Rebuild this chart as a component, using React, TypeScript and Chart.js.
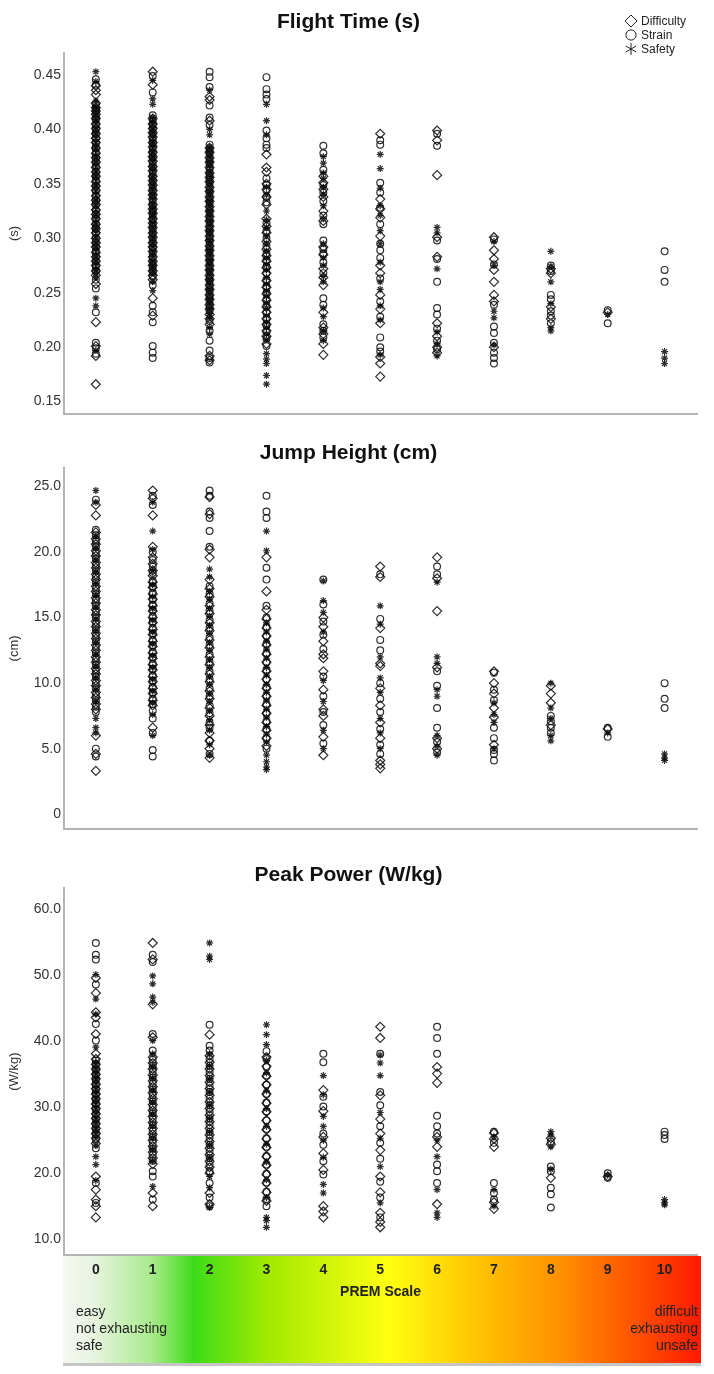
import { useEffect, useRef } from "react";
import Chart from "chart.js/auto";

const FONT = '"Liberation Sans", Arial, sans-serif';

const prem = [0, 1, 2, 3, 4, 5, 6, 7, 8, 9, 10];
const seriesNames = ["Difficulty", "Strain", "Safety"];
const markerStyles = ["rectRot", "circle", "star"];
const markerRadius = [4.5, 3.4, 3.5];

// one list of values per PREM category (0..10)
const flightDifficulty = [
  [0.44, 0.436, 0.432, 0.424, 0.42, 0.417, 0.414, 0.41, 0.405, 0.401, 0.396, 0.392, 0.388, 0.383, 0.378, 0.374, 0.37, 0.365, 0.361, 0.357, 0.352, 0.348, 0.344, 0.339, 0.335, 0.331, 0.326, 0.322, 0.318, 0.313, 0.309, 0.305, 0.3, 0.296, 0.292, 0.287, 0.283, 0.279, 0.275, 0.27, 0.266, 0.258, 0.223, 0.201, 0.192, 0.166],
  [0.453, 0.441, 0.41, 0.405, 0.401, 0.397, 0.393, 0.388, 0.384, 0.379, 0.375, 0.371, 0.366, 0.362, 0.357, 0.353, 0.349, 0.344, 0.34, 0.336, 0.331, 0.327, 0.323, 0.318, 0.314, 0.31, 0.305, 0.301, 0.296, 0.292, 0.288, 0.283, 0.279, 0.275, 0.27, 0.266, 0.262, 0.245, 0.229],
  [0.43, 0.427, 0.408, 0.383, 0.379, 0.374, 0.37, 0.365, 0.36, 0.356, 0.352, 0.347, 0.343, 0.338, 0.334, 0.329, 0.325, 0.32, 0.316, 0.311, 0.307, 0.302, 0.298, 0.293, 0.289, 0.284, 0.28, 0.275, 0.271, 0.266, 0.262, 0.257, 0.253, 0.248, 0.244, 0.239, 0.235, 0.23, 0.226, 0.221, 0.192, 0.188],
  [0.377, 0.365, 0.361, 0.35, 0.345, 0.338, 0.331, 0.318, 0.311, 0.305, 0.297, 0.29, 0.284, 0.279, 0.273, 0.268, 0.261, 0.255, 0.249, 0.243, 0.237, 0.232, 0.226, 0.221, 0.215, 0.21, 0.203],
  [0.357, 0.351, 0.345, 0.338, 0.325, 0.316, 0.292, 0.285, 0.272, 0.264, 0.257, 0.232, 0.218, 0.212, 0.203, 0.193],
  [0.396, 0.336, 0.327, 0.319, 0.302, 0.275, 0.268, 0.248, 0.235, 0.222, 0.191, 0.185, 0.173],
  [0.399, 0.39, 0.358, 0.301, 0.283, 0.222, 0.21, 0.2, 0.195],
  [0.301, 0.289, 0.281, 0.271, 0.26, 0.248, 0.242, 0.2],
  [0.272, 0.268, 0.237, 0.226],
  [0.232],
  [],
];
const flightStrain = [
  [0.446, 0.441, 0.423, 0.419, 0.417, 0.412, 0.409, 0.404, 0.4, 0.396, 0.392, 0.387, 0.383, 0.379, 0.374, 0.37, 0.366, 0.361, 0.357, 0.353, 0.348, 0.344, 0.339, 0.335, 0.331, 0.326, 0.322, 0.318, 0.313, 0.309, 0.305, 0.3, 0.296, 0.292, 0.288, 0.283, 0.279, 0.274, 0.27, 0.262, 0.254, 0.232, 0.204, 0.199, 0.194],
  [0.449, 0.434, 0.413, 0.408, 0.404, 0.4, 0.396, 0.391, 0.387, 0.382, 0.378, 0.374, 0.369, 0.365, 0.36, 0.356, 0.352, 0.347, 0.343, 0.339, 0.334, 0.33, 0.325, 0.321, 0.317, 0.312, 0.308, 0.304, 0.299, 0.295, 0.291, 0.286, 0.282, 0.277, 0.273, 0.269, 0.265, 0.257, 0.238, 0.232, 0.223, 0.201, 0.195, 0.19],
  [0.453, 0.448, 0.439, 0.422, 0.411, 0.404, 0.386, 0.381, 0.377, 0.372, 0.368, 0.363, 0.358, 0.354, 0.35, 0.345, 0.341, 0.336, 0.332, 0.327, 0.323, 0.318, 0.314, 0.309, 0.305, 0.3, 0.296, 0.291, 0.287, 0.282, 0.278, 0.273, 0.269, 0.264, 0.26, 0.255, 0.251, 0.246, 0.242, 0.237, 0.233, 0.224, 0.215, 0.206, 0.197, 0.19, 0.186],
  [0.448, 0.437, 0.432, 0.428, 0.399, 0.392, 0.386, 0.383, 0.355, 0.349, 0.344, 0.338, 0.333, 0.314, 0.307, 0.3, 0.293, 0.286, 0.28, 0.274, 0.268, 0.262, 0.256, 0.25, 0.244, 0.238, 0.232, 0.226, 0.22, 0.214, 0.208, 0.201],
  [0.385, 0.378, 0.363, 0.349, 0.342, 0.334, 0.321, 0.313, 0.298, 0.29, 0.286, 0.278, 0.268, 0.245, 0.239, 0.221, 0.215, 0.209],
  [0.39, 0.386, 0.351, 0.342, 0.328, 0.313, 0.295, 0.289, 0.282, 0.263, 0.242, 0.228, 0.209, 0.2, 0.196],
  [0.396, 0.385, 0.298, 0.281, 0.26, 0.236, 0.23, 0.217, 0.206, 0.198],
  [0.299, 0.276, 0.239, 0.219, 0.213, 0.204, 0.195, 0.19, 0.185],
  [0.275, 0.27, 0.248, 0.244, 0.233, 0.229, 0.222],
  [0.234, 0.222],
  [0.288, 0.271, 0.26],
];
const flightSafety = [
  [0.453, 0.444, 0.426, 0.421, 0.419, 0.415, 0.411, 0.407, 0.402, 0.398, 0.394, 0.389, 0.385, 0.381, 0.376, 0.372, 0.368, 0.363, 0.359, 0.355, 0.35, 0.346, 0.342, 0.337, 0.333, 0.329, 0.324, 0.32, 0.315, 0.311, 0.307, 0.302, 0.298, 0.294, 0.29, 0.285, 0.281, 0.277, 0.272, 0.268, 0.264, 0.245, 0.238, 0.197],
  [0.445, 0.428, 0.423, 0.411, 0.407, 0.402, 0.398, 0.394, 0.389, 0.385, 0.38, 0.376, 0.372, 0.367, 0.363, 0.358, 0.354, 0.35, 0.346, 0.341, 0.337, 0.332, 0.328, 0.324, 0.32, 0.315, 0.311, 0.306, 0.302, 0.298, 0.294, 0.289, 0.285, 0.28, 0.276, 0.272, 0.268, 0.26, 0.252],
  [0.436, 0.4, 0.395, 0.384, 0.38, 0.376, 0.371, 0.367, 0.362, 0.358, 0.353, 0.349, 0.344, 0.34, 0.335, 0.331, 0.326, 0.322, 0.317, 0.313, 0.308, 0.304, 0.299, 0.295, 0.29, 0.286, 0.281, 0.277, 0.272, 0.268, 0.263, 0.259, 0.254, 0.25, 0.245, 0.241, 0.236, 0.231, 0.227, 0.218, 0.212],
  [0.423, 0.408, 0.395, 0.347, 0.34, 0.325, 0.317, 0.31, 0.302, 0.295, 0.288, 0.282, 0.276, 0.271, 0.264, 0.258, 0.252, 0.247, 0.241, 0.236, 0.229, 0.223, 0.218, 0.212, 0.207, 0.194, 0.189, 0.185, 0.174, 0.166],
  [0.375, 0.369, 0.36, 0.355, 0.347, 0.34, 0.33, 0.318, 0.295, 0.282, 0.275, 0.265, 0.26, 0.236, 0.228, 0.215, 0.206],
  [0.377, 0.364, 0.346, 0.33, 0.321, 0.307, 0.295, 0.278, 0.26, 0.253, 0.238, 0.225, 0.193],
  [0.31, 0.305, 0.272, 0.214, 0.203, 0.192],
  [0.297, 0.275, 0.233, 0.227, 0.202],
  [0.288, 0.274, 0.26, 0.24, 0.218, 0.215],
  [0.23],
  [0.196, 0.19, 0.185],
];

const jumpDifficulty = [
  [23.6, 22.8, 21.5, 21.0, 20.6, 20.1, 19.7, 19.2, 18.8, 18.3, 17.9, 17.4, 17.0, 16.5, 16.1, 15.6, 15.2, 14.7, 14.3, 13.8, 13.4, 12.9, 12.5, 12.0, 11.6, 11.1, 10.7, 10.2, 9.8, 9.3, 8.9, 8.4, 8.0, 6.0, 4.6, 3.3],
  [24.7, 24.1, 22.8, 20.4, 19.6, 19.1, 18.6, 18.2, 17.7, 17.3, 16.8, 16.4, 15.9, 15.5, 15.0, 14.6, 14.1, 13.7, 13.2, 12.8, 12.3, 11.9, 11.4, 11.0, 10.5, 10.1, 9.6, 9.2, 8.7, 8.3, 6.6],
  [24.2, 22.9, 20.2, 19.6, 17.9, 17.2, 16.6, 15.9, 15.3, 14.6, 14.0, 13.3, 12.7, 12.0, 11.4, 10.7, 10.1, 9.4, 8.8, 8.1, 7.5, 6.8, 6.2, 5.6, 5.0, 4.3],
  [19.6, 17.0, 15.6, 14.9, 14.2, 13.6, 12.9, 12.2, 11.6, 10.9, 10.3, 9.6, 9.0, 8.3, 7.7, 7.0, 6.4, 5.8, 5.2],
  [15.0, 14.3, 13.2, 12.2, 11.9, 10.9, 9.5, 8.0, 7.5, 5.9, 4.5],
  [18.9, 18.1, 14.2, 11.5, 11.3, 9.6, 8.3, 7.0, 5.8, 4.1, 3.8, 3.5],
  [19.6, 18.0, 15.5, 11.2, 5.8, 5.0],
  [10.9, 10.0, 9.2, 8.1, 7.4, 5.3],
  [9.8, 9.2, 8.5, 6.8],
  [6.5],
  [],
];
const jumpStrain = [
  [24.0, 21.7, 21.3, 20.8, 20.4, 19.9, 19.5, 19.0, 18.6, 18.1, 17.7, 17.2, 16.8, 16.3, 15.9, 15.4, 15.0, 14.5, 14.1, 13.6, 13.2, 12.7, 12.3, 11.8, 11.4, 10.9, 10.5, 10.0, 9.6, 9.1, 8.7, 8.2, 7.8, 5.0, 4.4],
  [24.3, 23.6, 20.0, 19.4, 18.9, 18.4, 17.8, 17.4, 16.9, 16.4, 16.0, 15.6, 15.1, 14.7, 14.2, 13.8, 13.3, 12.9, 12.4, 12.0, 11.5, 11.1, 10.6, 10.2, 9.7, 9.3, 8.8, 8.4, 7.9, 7.3, 6.2, 4.9, 4.4],
  [24.7, 24.3, 23.1, 22.6, 21.6, 20.4, 17.4, 16.8, 16.1, 15.5, 14.8, 14.2, 13.5, 12.9, 12.2, 11.6, 10.9, 10.3, 9.6, 9.0, 8.3, 7.7, 7.0, 6.6, 5.6, 4.6],
  [24.3, 23.1, 22.6, 18.8, 17.9, 15.9, 15.0, 14.3, 13.6, 13.0, 12.3, 11.6, 11.0, 10.3, 9.7, 9.0, 8.4, 7.7, 7.1, 6.5, 5.8, 5.0],
  [17.9, 16.0, 14.7, 13.7, 12.6, 10.5, 9.0, 7.8, 6.8, 5.4],
  [18.3, 14.9, 13.3, 12.5, 10.0, 8.8, 7.8, 6.5, 5.3, 4.6],
  [18.9, 18.3, 10.9, 9.8, 8.1, 6.6, 5.5, 4.7],
  [10.8, 9.5, 8.7, 6.6, 5.8, 4.9, 4.6, 4.1],
  [7.5, 7.1, 6.6, 6.2],
  [6.6, 5.9],
  [10.0, 8.8, 8.1],
];
const jumpSafety = [
  [24.7, 23.8, 21.2, 20.3, 19.4, 18.5, 17.6, 16.7, 15.8, 14.9, 14.0, 13.1, 12.2, 11.3, 10.4, 9.5, 8.6, 7.3, 6.6, 6.2],
  [23.8, 21.6, 20.2, 18.6, 17.5, 16.6, 15.7, 14.8, 13.9, 13.0, 12.1, 11.2, 10.3, 9.4, 8.5, 7.6, 6.0],
  [18.7, 18.1, 17.0, 16.4, 15.7, 15.1, 14.4, 13.8, 13.1, 12.5, 11.8, 11.2, 10.5, 9.9, 9.2, 8.6, 7.9, 7.2, 6.4, 5.3, 4.5],
  [21.6, 20.1, 14.6, 13.9, 13.2, 12.6, 11.9, 11.2, 10.6, 9.9, 9.3, 8.7, 8.0, 7.4, 6.7, 6.1, 5.5, 4.5, 4.0, 3.6, 3.4],
  [17.8, 16.3, 15.4, 13.9, 10.2, 8.6, 6.4, 5.0],
  [15.9, 14.5, 12.0, 10.4, 9.3, 7.3, 6.2, 5.0],
  [17.7, 12.0, 11.5, 9.5, 9.0, 6.0, 5.2, 4.5],
  [8.5, 7.6, 7.0, 5.0],
  [10.0, 8.1, 7.3, 6.0, 5.6],
  [6.2],
  [4.6, 4.3, 4.1],
];

const powerDifficulty = [
  [49.6, 47.3, 44.4, 43.6, 41.1, 38.1, 37.3, 36.5, 35.8, 35.0, 34.3, 33.5, 32.8, 32.0, 31.3, 30.5, 29.8, 29.0, 28.3, 27.5, 26.8, 26.0, 25.3, 24.5, 19.5, 17.5, 16.0, 15.0, 13.3],
  [54.9, 52.4, 45.6, 40.6, 37.6, 36.7, 35.8, 34.9, 34.0, 33.1, 32.2, 31.3, 30.4, 29.5, 28.6, 27.7, 26.8, 25.9, 25.0, 24.1, 23.2, 22.3, 21.4, 17.0, 15.0],
  [41.0, 37.8, 36.8, 35.8, 34.8, 33.8, 32.8, 31.8, 30.8, 29.8, 28.8, 27.8, 26.8, 25.8, 24.8, 23.8, 22.8, 21.8, 20.9, 20.0, 17.0, 15.3],
  [37.6, 36.2, 34.7, 33.4, 32.0, 30.6, 29.3, 28.0, 26.6, 25.2, 23.9, 22.5, 21.2, 19.8, 18.5, 17.1, 15.8],
  [32.6, 29.4, 25.5, 23.0, 20.5, 15.0, 14.2, 13.3],
  [42.2, 40.5, 31.8, 28.2, 26.0, 23.5, 19.5, 17.1, 14.0, 12.6, 11.8],
  [36.1, 35.1, 33.7, 25.5, 24.0, 15.3],
  [26.1, 25.2, 24.0, 15.6, 14.6],
  [25.3, 24.4, 19.3],
  [19.5],
  [],
];
const powerStrain = [
  [54.9, 53.1, 52.4, 48.6, 42.6, 40.1, 37.1, 36.4, 35.6, 34.9, 34.1, 33.4, 32.6, 31.9, 31.1, 30.4, 29.6, 28.9, 28.1, 27.4, 26.6, 25.9, 25.1, 23.8, 18.5, 15.5],
  [53.1, 52.0, 41.1, 38.6, 37.2, 36.3, 35.4, 34.5, 33.6, 32.7, 31.8, 30.9, 30.0, 29.1, 28.2, 27.3, 26.4, 25.5, 24.6, 23.7, 22.8, 21.9, 20.3, 19.5, 16.0],
  [42.5, 39.3, 38.6, 37.3, 36.3, 35.3, 34.3, 33.3, 32.3, 31.3, 30.3, 29.3, 28.3, 27.3, 26.3, 25.3, 24.3, 23.3, 22.3, 21.3, 20.3, 18.5, 16.3, 15.0],
  [38.5, 37.3, 36.1, 34.8, 33.4, 32.0, 30.7, 29.4, 28.0, 26.7, 25.3, 24.0, 22.6, 21.3, 19.9, 18.6, 17.2, 16.1, 15.0],
  [38.1, 36.8, 31.6, 30.1, 26.0, 24.3, 21.8, 19.8],
  [38.1, 32.3, 30.3, 27.1, 24.6, 22.2, 18.7, 16.3, 13.3],
  [42.2, 40.5, 38.1, 28.7, 27.1, 26.0, 21.3, 20.3, 18.5],
  [26.3, 24.6, 18.5, 17.0, 16.0],
  [24.8, 21.0, 20.3, 17.8, 16.8, 14.8],
  [20.0, 19.3],
  [26.3, 25.8, 25.2],
];
const powerSafety = [
  [50.1, 46.4, 44.1, 39.1, 36.8, 36.0, 35.3, 34.5, 33.8, 33.0, 32.3, 31.5, 30.8, 30.0, 29.3, 28.5, 27.8, 27.0, 26.3, 25.5, 24.2, 22.5, 21.3, 18.9],
  [49.9, 48.7, 46.7, 45.9, 40.1, 38.1, 36.2, 34.4, 32.6, 30.8, 29.0, 27.2, 25.4, 23.6, 21.8, 18.0],
  [54.9, 52.9, 52.4, 38.1, 36.3, 34.3, 32.3, 30.3, 28.3, 26.3, 24.3, 22.3, 19.5, 17.8, 14.8],
  [42.5, 41.0, 39.5, 37.1, 35.2, 32.5, 29.8, 27.1, 24.4, 21.7, 19.0, 16.3, 13.3, 12.8, 11.8],
  [34.8, 31.9, 28.6, 27.1, 25.0, 22.4, 18.3, 17.0],
  [37.9, 36.7, 34.8, 29.2, 25.3, 21.0, 15.5],
  [25.0, 22.5, 17.5, 14.0, 13.3],
  [25.5, 17.5, 15.0],
  [26.3, 25.8, 24.0, 20.6],
  [19.7],
  [16.0, 15.5, 15.2],
];

const flightTicks = { min: 0.139, max: 0.47, step: 0.05 };
const jumpTicks = { min: -1.1, max: 26.4, step: 5 };
const powerTicks = { min: 7.6, max: 63.2, step: 10 };

const bandText = {
  left: ["easy", "not exhausting", "safe"],
  right: ["difficult", "exhausting", "unsafe"],
};

function toPoints(cols: number[][]) {
  return cols.flatMap((vals, i) => vals.map((v) => ({ x: prem[i], y: v })));
}

function drawMarker(ctx: CanvasRenderingContext2D, style: string, x: number, y: number, r: number) {
  ctx.beginPath();
  if (style === "rectRot") {
    ctx.moveTo(x, y - r);
    ctx.lineTo(x + r, y);
    ctx.lineTo(x, y + r);
    ctx.lineTo(x - r, y);
    ctx.closePath();
  } else if (style === "circle") {
    ctx.arc(x, y, r * 0.85, 0, Math.PI * 2);
  } else {
    for (let a = 0; a < 3; a++) {
      const ang = Math.PI / 2 + (a * Math.PI) / 3;
      ctx.moveTo(x + Math.cos(ang) * r, y + Math.sin(ang) * r);
      ctx.lineTo(x - Math.cos(ang) * r, y - Math.sin(ang) * r);
    }
  }
  ctx.stroke();
}

const cornerLegend = {
  id: "cornerLegend",
  afterDraw(chart: any) {
    const ctx = chart.ctx as CanvasRenderingContext2D;
    ctx.save();
    ctx.strokeStyle = "#222";
    ctx.lineWidth = 1;
    ctx.fillStyle = "#222";
    ctx.font = "12px " + FONT;
    ctx.textAlign = "left";
    ctx.textBaseline = "middle";
    chart.data.datasets.forEach((ds: any, i: number) => {
      const y = 21 + i * 14;
      drawMarker(ctx, ds.pointStyle, 631, y, 6);
      ctx.fillText(ds.label, 641, y + 1);
    });
    ctx.restore();
  },
};

const premBand = {
  id: "premBand",
  beforeDraw(chart: any) {
    const { ctx, chartArea } = chart;
    const x0 = chartArea.left - 1;
    const x1 = chartArea.right + 4;
    const y0 = chartArea.bottom + 1;
    const y1 = chartArea.bottom + 108;
    ctx.save();
    const g = ctx.createLinearGradient(x0, 0, x1, 0);
    g.addColorStop(0, "#f6f8f3");
    g.addColorStop(0.05, "#e6f4de");
    g.addColorStop(0.14, "#a8ea8a");
    g.addColorStop(0.205, "#3ddc18");
    g.addColorStop(0.32, "#a0ea00");
    g.addColorStop(0.51, "#ffff10");
    g.addColorStop(0.67, "#ffbb00");
    g.addColorStop(0.78, "#ff9000");
    g.addColorStop(0.9, "#ff5000");
    g.addColorStop(1, "#ff1a00");
    ctx.fillStyle = g;
    ctx.fillRect(x0, y0, x1 - x0, y1 - y0);
    ctx.fillStyle = "rgba(150,150,150,0.55)";
    ctx.fillRect(x0, y1, x1 - x0, 3);

    ctx.fillStyle = "#222";
    ctx.font = "14px " + FONT;
    ctx.textBaseline = "middle";
    ctx.textAlign = "left";
    bandText.left.forEach((t, i) => ctx.fillText(t, chartArea.left + 12, chartArea.bottom + 57 + i * 17));
    ctx.textAlign = "right";
    bandText.right.forEach((t, i) => ctx.fillText(t, chartArea.right + 1, chartArea.bottom + 57 + i * 17));
    ctx.restore();
  },
};

type PanelProps = {
  title: string;
  unit: string;
  top: number;
  height: number;
  titlePad: { top: number; bottom: number };
  ticks: { min: number; max: number; step: number };
  digits: number;
  series: number[][][];
  xHeight: number;
  showX?: boolean;
  plugins?: any[];
};

function Panel(props: PanelProps) {
  const chartRef = useRef<HTMLCanvasElement>(null);

  useEffect(() => {
    if (!chartRef.current) return;
    const ctx = chartRef.current.getContext("2d");
    if (!ctx) return;

    const axisBorder = { display: true, color: "#b4b4b4", width: 2 };

    const myChart = new Chart(ctx, {
      type: "scatter",
      data: {
        datasets: props.series.map((cols, i) => ({
          label: seriesNames[i],
          data: toPoints(cols),
          pointStyle: markerStyles[i] as any,
          pointRadius: markerRadius[i],
          pointBorderWidth: 1.2,
          pointBorderColor: "rgba(10,10,10,0.85)",
          pointBackgroundColor: "rgba(0,0,0,0)",
          showLine: false,
        })),
      },
      options: {
        animation: false,
        responsive: true,
        maintainAspectRatio: false,
        layout: { padding: { left: 0, right: 17, top: 0, bottom: 0 } },
        plugins: {
          legend: { display: false },
          tooltip: { enabled: false },
          title: {
            display: true,
            text: props.title,
            color: "#111",
            font: { family: FONT, size: 21, weight: "bold", lineHeight: 1.2 },
            padding: props.titlePad,
          },
        },
        scales: {
          x: {
            type: "linear",
            min: -0.56,
            max: 10.57,
            grid: { display: false, drawTicks: false },
            border: axisBorder,
            ticks: {
              display: !!props.showX,
              stepSize: 1,
              includeBounds: false,
              padding: 7,
              color: "#222",
              font: { family: FONT, size: 14, weight: "bold" },
              callback: (v: any) => String(v),
            },
            title: {
              display: !!props.showX,
              text: "PREM Scale",
              color: "#222",
              font: { family: FONT, size: 14, weight: "bold" },
              padding: { top: 0, bottom: 73 },
            },
            afterFit: (s: any) => {
              s.height = props.xHeight;
            },
          },
          y: {
            min: props.ticks.min,
            max: props.ticks.max,
            grid: { display: false, drawTicks: false },
            border: axisBorder,
            ticks: {
              stepSize: props.ticks.step,
              includeBounds: false,
              padding: 3,
              color: "#333",
              font: { family: FONT, size: 14 },
              callback: (v: any) => (Math.abs(v) < 1e-9 ? "0" : Number(v).toFixed(props.digits)),
            },
            title: {
              display: true,
              text: props.unit,
              color: "#333",
              font: { family: FONT, size: 13 },
              padding: { top: 7, bottom: 0 },
            },
            afterFit: (s: any) => {
              s.width = 64;
            },
          },
        },
      },
      plugins: props.plugins || [],
    });

    return () => {
      myChart.destroy();
    };
  }, []);

  return (
    <div style={{ position: "absolute", left: 0, top: props.top, width: 714, height: props.height }}>
      <canvas ref={chartRef} />
    </div>
  );
}

export default function App() {
  return (
    <div style={{ position: "absolute", left: 0, top: 0, width: 714, height: 1374, background: "#fff" }}>
      <Panel
        title="Flight Time (s)"
        unit="(s)"
        top={0}
        height={425}
        titlePad={{ top: 10, bottom: 18 }}
        ticks={flightTicks}
        digits={2}
        series={[flightDifficulty, flightStrain, flightSafety]}
        xHeight={6}
        plugins={[cornerLegend]}
      />
      <Panel
        title="Jump Height (cm)"
        unit="(cm)"
        top={425}
        height={415}
        titlePad={{ top: 16, bottom: 2 }}
        ticks={jumpTicks}
        digits={1}
        series={[jumpDifficulty, jumpStrain, jumpSafety]}
        xHeight={5}
      />
      <Panel
        title="Peak Power (W/kg)"
        unit="(W/kg)"
        top={840}
        height={534}
        titlePad={{ top: 23, bottom: 0 }}
        ticks={powerTicks}
        digits={1}
        series={[powerDifficulty, powerStrain, powerSafety]}
        xHeight={119}
        showX
        plugins={[premBand]}
      />
    </div>
  );
}
